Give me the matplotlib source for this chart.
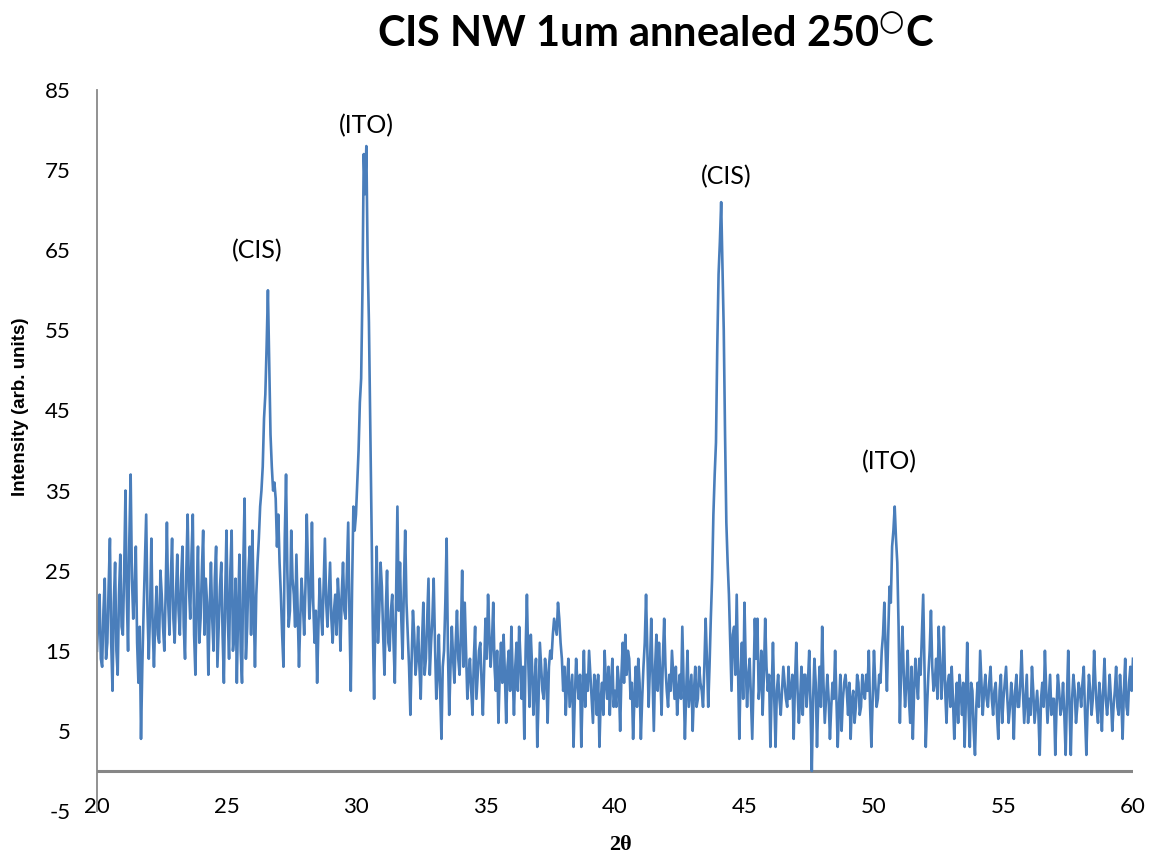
import numpy as np
import matplotlib
matplotlib.use("Agg")
import matplotlib.pyplot as plt

plt.rcParams["axes.unicode_minus"] = False

# XRD scan: main readings at 20.0, 20.1, ... and
# the readings in between them (20.05, 20.15, ...)
intensity_20s = [15, 22, 13, 24, 16, 29, 10, 26, 12, 27,
                 17, 35, 15, 37, 19, 28, 11, 4, 20, 32,
                 14, 29, 13, 23, 16, 22, 15, 31, 17, 29,
                 16, 27, 17, 28, 14, 32, 19, 32, 12, 28,
                 19, 30, 24, 12, 26, 15, 28, 18, 26, 11,
                 30, 14, 30, 17, 11, 27, 11, 34, 18, 28,
                 30, 13, 26, 33, 38, 47, 60, 42, 35, 34,
                 32, 22, 13, 37, 18, 30, 22, 27, 13, 24,
                 17, 32, 19, 31, 16, 11, 24, 17, 29, 18,
                 26, 16, 22, 24, 15, 26, 19, 31, 10, 33]
intensity_30s = [32, 40, 49, 77, 78, 56, 31, 9, 28, 20,
                 23, 12, 25, 15, 22, 11, 33, 26, 14, 30,
                 17, 7, 20, 12, 18, 9, 21, 14, 24, 16,
                 24, 9, 17, 4, 15, 29, 7, 18, 11, 20,
                 12, 25, 21, 9, 14, 7, 18, 12, 16, 7,
                 19, 22, 13, 21, 10, 6, 16, 17, 6, 15,
                 18, 7, 16, 18, 9, 4, 22, 8, 13, 11,
                 3, 16, 10, 14, 6, 15, 17, 18, 21, 16,
                 10, 7, 14, 10, 3, 14, 9, 3, 15, 12,
                 15, 9, 12, 7, 3, 11, 15, 9, 7, 14]
intensity_40s = [10, 13, 5, 16, 17, 15, 9, 4, 13, 14,
                 4, 13, 22, 8, 19, 5, 17, 16, 7, 19,
                 10, 12, 15, 9, 7, 12, 18, 4, 15, 10,
                 5, 13, 9, 11, 8, 19, 8, 19, 32, 41,
                 62, 71, 55, 31, 22, 10, 18, 22, 4, 16,
                 21, 8, 14, 4, 19, 19, 11, 7, 19, 10,
                 3, 16, 3, 12, 7, 13, 9, 13, 10, 4,
                 16, 6, 13, 12, 8, 15, 0, 14, 3, 13,
                 18, 6, 12, 4, 11, 15, 3, 12, 9, 12,
                 7, 4, 10, 8, 11, 8, 10, 12, 15, 3]
intensity_50s = [15, 8, 12, 15, 21, 10, 23, 28, 33, 26,
                 6, 18, 8, 15, 6, 4, 14, 9, 12, 22,
                 3, 12, 20, 10, 14, 18, 9, 18, 6, 12,
                 13, 4, 11, 12, 7, 3, 16, 3, 10, 2,
                 11, 15, 7, 12, 8, 13, 7, 11, 4, 12,
                 9, 13, 6, 11, 4, 12, 8, 15, 6, 12,
                 9, 13, 6, 10, 2, 11, 15, 6, 12, 9,
                 2, 12, 7, 11, 2, 15, 2, 12, 6, 11,
                 8, 13, 2, 12, 7, 15, 8, 11, 5, 14,
                 7, 12, 5, 10, 8, 12, 4, 14, 7, 13,
                 14]

between_20s = [19, 14, 20, 14, 23, 16, 21, 15, 22, 18,
               25, 22, 29, 24, 23, 16, 18, 13, 26, 20,
               20, 18, 19, 17, 25, 18, 22, 21, 24, 19,
               22, 20, 24, 18, 25, 23, 27, 17, 22, 16,
               25, 17, 21, 20, 19, 24, 13, 23, 17, 22,
               19, 25, 15, 24, 20, 15, 26, 14, 25, 17,
               21, 22, 29, 35, 44, 53, 51, 38, 36, 28,
               26, 17, 29, 25, 20, 24, 18, 20, 19, 21,
               23, 25, 22, 21, 20, 18, 20, 23, 21, 22,
               19, 20, 17, 21, 22, 20, 25, 19, 23, 30]
between_30s = [36, 46, 60, 72, 64, 44, 18, 20, 16, 26,
               17, 20, 16, 20, 16, 22, 20, 19, 23, 21,
               13, 14, 17, 14, 13, 16, 12, 19, 12, 19,
               16, 12, 10, 13, 21, 15, 13, 14, 16, 14,
               17, 13, 15, 12, 10, 14, 9, 15, 11, 13,
               14, 17, 16, 13, 15, 12, 11, 12, 13, 10,
               12, 13, 10, 14, 13, 15, 14, 17, 7, 14,
               9, 13, 9, 12, 13, 14, 19, 17, 19, 14,
               13, 11, 8, 12, 9, 11, 12, 10, 8, 10,
               12, 6, 11, 12, 9, 7, 11, 13, 11, 8]
between_40s = [8, 11, 12, 11, 12, 14, 11, 9, 8, 11,
               9, 16, 15, 13, 12, 13, 10, 12, 14, 13,
               8, 10, 12, 13, 10, 9, 11, 10, 8, 12,
               10, 8, 13, 10, 13, 14, 13, 24, 37, 53,
               66, 63, 42, 26, 16, 17, 12, 13, 12, 9,
               13, 12, 9, 11, 14, 9, 15, 12, 13, 12,
               10, 9, 10, 9, 10, 11, 8, 9, 12, 11,
               10, 9, 7, 12, 11, 8, 9, 11, 9, 8,
               11, 9, 9, 8, 9, 9, 8, 5, 11, 10,
               11, 9, 6, 12, 7, 12, 9, 10, 8, 9]
between_50s = [11, 9, 11, 17, 15, 17, 21, 30, 29, 18,
               13, 12, 11, 9, 13, 10, 11, 14, 17, 13,
               8, 15, 13, 11, 9, 14, 12, 10, 11, 8,
               9, 8, 6, 10, 11, 9, 8, 11, 5, 8,
               8, 11, 10, 9, 11, 9, 10, 7, 10, 6,
               11, 9, 8, 9, 10, 8, 11, 10, 9, 6,
               7, 10, 8, 7, 9, 8, 10, 9, 7, 9,
               8, 10, 8, 7, 9, 8, 9, 10, 8, 10,
               11, 7, 8, 10, 9, 11, 6, 9, 10, 9,
               9, 9, 8, 13, 7, 9, 10, 8, 11, 10]

peak_labels = ["(CIS)", "(ITO)", "(CIS)", "(ITO)"]
peak_pos = [26.2, 30.4, 44.3, 50.6]
label_height = [65, 80.5, 74.2, 38.6]

main = intensity_20s + intensity_30s + intensity_40s + intensity_50s
between = between_20s + between_30s + between_40s + between_50s
intensity = np.empty(len(main) + len(between))
intensity[0::2] = main
intensity[1::2] = between
two_theta = np.round(np.linspace(20, 60, len(intensity)), 3)

fig = plt.figure(figsize=(11.6, 8.57), dpi=100)
ax = fig.add_axes([0.0836, 0.0537, 0.8931, 0.8413])

ax.plot(two_theta, intensity, color="#4a7ebb", lw=1.9)
ax.axhline(0, color="#868686", lw=2.2, zorder=1)

for lab, xp, yp in zip(peak_labels, peak_pos, label_height):
    ax.text(xp, yp, lab, ha="center", va="center", fontsize=18, family="Lato")

ax.set_xlim(20, 60)
ax.set_ylim(-5, 85)
ax.set_xticks(np.arange(20, 61, 5))
ax.set_yticks(np.arange(-5, 86, 10))
for s in ["top", "right", "bottom"]:
    ax.spines[s].set_visible(False)
ax.spines["left"].set_color("#898989")
ax.spines["left"].set_linewidth(1.3)
ax.tick_params(axis="x", length=0, pad=-10, labelsize=16)
ax.tick_params(axis="y", length=0, pad=19, labelsize=16)
for t in ax.get_xticklabels() + ax.get_yticklabels():
    t.set_family("Lato")

fig.text(0.565, 0.960, r"CIS NW 1um annealed 250$^{\bigcirc}$C", ha="center", va="center",
         fontsize=30, fontweight="bold", family="Lato")
fig.text(0.018, 0.525, "Intensity (arb. units)", rotation=90, ha="center", va="center",
         fontsize=13.5, fontweight="bold", family="Liberation Sans")
fig.text(0.535, 0.014, "2\u03b8", ha="center", va="center",
         fontsize=16, fontweight="bold", family="Liberation Serif")

plt.savefig("out.png", dpi=100)
plt.close()
